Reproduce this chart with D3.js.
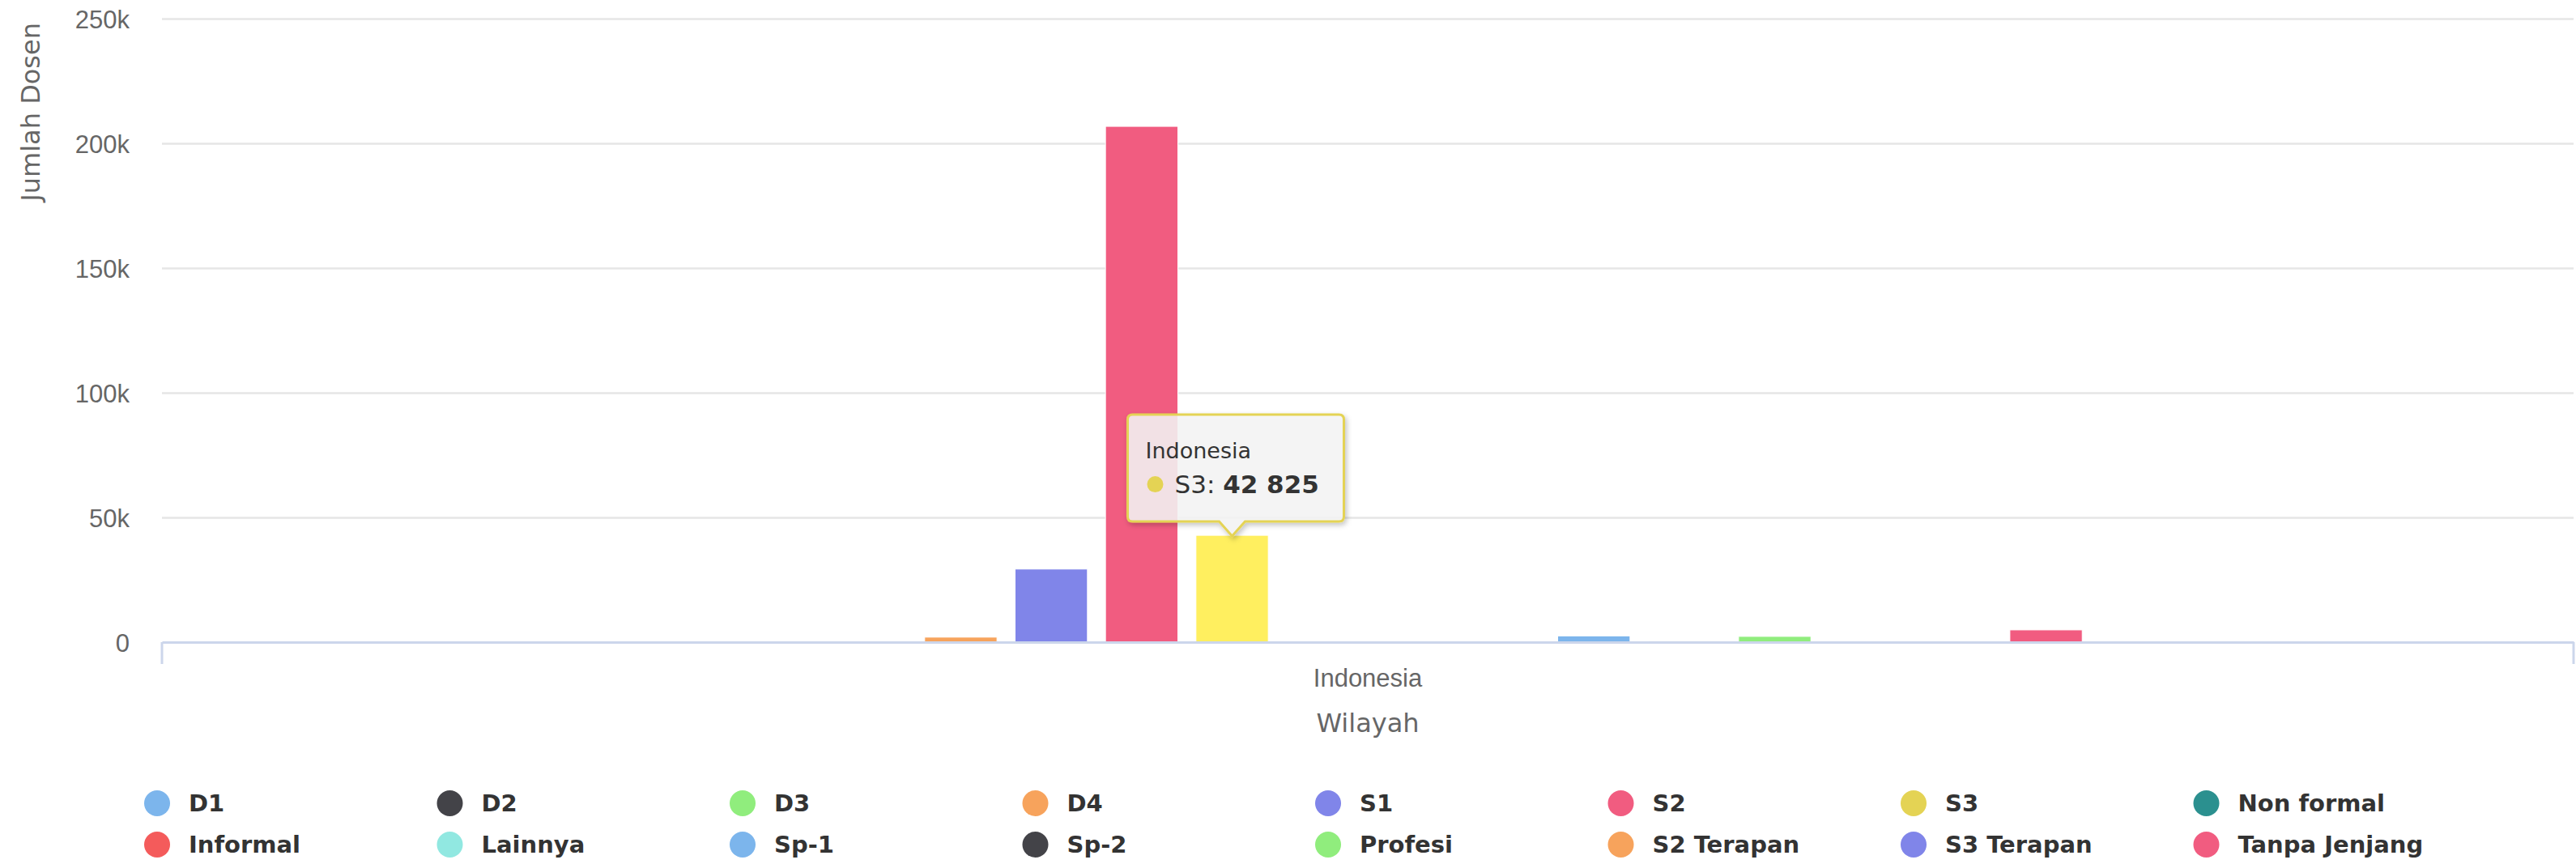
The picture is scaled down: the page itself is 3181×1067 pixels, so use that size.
<!DOCTYPE html>
<html>
<head>
<meta charset="utf-8">
<script src="https://cdn.jsdelivr.net/npm/d3@7/dist/d3.min.js"></script>
<style>
  html, body { margin: 0; padding: 0; background: #ffffff; }
  svg { display: block; font-family: "DejaVu Sans", Verdana, sans-serif; }
</style>
</head>
<body>
<svg id="chart" width="3181" height="1067"></svg>
<script>
// ---------- DATA ----------
const categories = ["Indonesia"];
const seriesNames = ["D1", "D2", "D3", "D4", "S1", "S2", "S3", "Non formal",
  "Informal", "Lainnya", "Sp-1", "Sp-2", "Profesi", "S2 Terapan", "S3 Terapan", "Tanpa Jenjang"];
const seriesValues = [0, 0, 150, 2000, 29300, 206800, 42825, 0,
  0, 0, 2500, 500, 2300, 0, 0, 4900];
const seriesColors = ["#7cb5ec", "#434348", "#90ed7d", "#f7a35c", "#8085e9", "#f15c80", "#e4d354", "#2b908f",
  "#f45b5b", "#91e8e1", "#7cb5ec", "#434348", "#90ed7d", "#f7a35c", "#8085e9", "#f15c80"];
const yTicks = [0, 50000, 100000, 150000, 200000, 250000];
const yTickLabels = ["0", "50k", "100k", "150k", "200k", "250k"];
const yTitle = "Jumlah Dosen";
const xTitle = "Wilayah";
const hoveredSeries = "S3";

// ---------- LAYOUT ----------
const svg = d3.select("#chart");
const plot = { left: 200, right: 3178, top: 23, bottom: 793 };

const x0 = d3.scaleBand().domain(categories).range([plot.left, plot.right])
  .paddingInner(0.25).paddingOuter(0.25);
const x1 = d3.scaleBand().domain(seriesNames).range([0, x0.bandwidth()])
  .paddingInner(0.2).paddingOuter(0.1);
const y = d3.scaleLinear().domain([0, 250000]).range([plot.bottom, plot.top]);
const color = d3.scaleOrdinal().domain(seriesNames).range(seriesColors);

// gridlines + y labels
const yAxis = svg.append("g")
  .attr("transform", `translate(${plot.left},0)`)
  .call(d3.axisLeft(y).tickValues(yTicks)
    .tickFormat((d, i) => yTickLabels[i])
    .tickSize(-(plot.right - plot.left)).tickPadding(40));
yAxis.select(".domain").remove();
yAxis.selectAll(".tick line").attr("stroke", "#e6e6e6").attr("stroke-width", 2.5)
  .filter(d => d === 0).remove();
yAxis.selectAll(".tick text").attr("fill", "#666666").attr("font-size", 31)
  .attr("dy", "0.36em");

// y title
svg.append("text")
  .attr("transform", `translate(49,${plot.top + 5}) rotate(-90)`)
  .attr("text-anchor", "end")
  .attr("fill", "#666666").attr("font-size", 32)
  .text(yTitle);

// bars
const data = categories.map(c => ({
  cat: c,
  values: seriesNames.map((s, i) => ({ series: s, value: seriesValues[i] }))
}));
const groups = svg.append("g").selectAll("g").data(data).join("g")
  .attr("transform", d => `translate(${x0(d.cat)},0)`);
groups.selectAll("rect").data(d => d.values).join("rect")
  .attr("x", d => x1(d.series))
  .attr("width", x1.bandwidth())
  .attr("y", d => y(d.value))
  .attr("height", d => y(0) - y(d.value))
  .attr("fill", d => d.series === hoveredSeries ? d3.color(color(d.series)).brighter(0.35).formatHex() : color(d.series))
  .attr("stroke", "#ffffff").attr("stroke-width", 1);

// x axis
const xAxis = svg.append("g")
  .attr("transform", `translate(0,${plot.bottom})`)
  .call(d3.axisBottom(x0).tickSize(0));
xAxis.select(".domain").attr("stroke", "#ccd6eb").attr("stroke-width", 3);
xAxis.selectAll(".tick text").attr("fill", "#666666").attr("font-size", 31)
  .attr("y", 55).attr("dy", 0);
// boundary tick marks
svg.append("g").selectAll("line").data(x0.range()).join("line")
  .attr("x1", d => d).attr("x2", d => d)
  .attr("y1", plot.bottom).attr("y2", plot.bottom + 27)
  .attr("stroke", "#ccd6eb").attr("stroke-width", 3);

// x title
svg.append("text")
  .attr("x", (plot.left + plot.right) / 2).attr("y", 904)
  .attr("text-anchor", "middle")
  .attr("fill", "#666666").attr("font-size", 32)
  .text(xTitle);

// legend
const legendX = d3.scalePoint().domain(d3.range(8)).range([194, 194 + 7 * 361.5]);
const legendY = [992, 1043];
const legend = svg.append("g").selectAll("g").data(seriesNames).join("g")
  .attr("transform", (d, i) => `translate(${legendX(i % 8)},${legendY[Math.floor(i / 8)]})`);
legend.append("circle").attr("r", 16).attr("fill", d => color(d));
legend.append("text").attr("x", 39).attr("dy", "0.36em")
  .attr("fill", "#333333").attr("font-size", 29).attr("font-weight", "bold")
  .text(d => d);

// tooltip
const defs = svg.append("defs");
const f = defs.append("filter").attr("id", "shadow").attr("x", "-10%").attr("y", "-10%")
  .attr("width", "130%").attr("height", "140%");
f.append("feDropShadow").attr("dx", 2).attr("dy", 3).attr("stdDeviation", 3)
  .attr("flood-color", "#000").attr("flood-opacity", 0.25);

const hi = seriesNames.indexOf(hoveredSeries);
const hv = seriesValues[hi];
const tipX = x0(categories[0]) + x1(hoveredSeries) + x1.bandwidth() / 2;
const tipY = y(hv) + 1;
const bx = tipX - 129, bw = 267, bh = 132, by = tipY - 18 - bh, r = 6;
const pathD = `M${bx + r},${by} H${bx + bw - r} Q${bx + bw},${by} ${bx + bw},${by + r}
  V${by + bh - r} Q${bx + bw},${by + bh} ${bx + bw - r},${by + bh}
  H${tipX + 16} L${tipX},${tipY} L${tipX - 16},${by + bh}
  H${bx + r} Q${bx},${by + bh} ${bx},${by + bh - r} V${by + r} Q${bx},${by} ${bx + r},${by} Z`;
const tip = svg.append("g");
tip.append("path").attr("d", pathD)
  .attr("fill", "rgba(247,247,247,0.85)")
  .attr("stroke", color(hoveredSeries)).attr("stroke-width", 3)
  .attr("filter", "url(#shadow)");
tip.append("text").attr("x", bx + 22).attr("y", by + 54)
  .attr("fill", "#333333").attr("font-size", 27).text(categories[0]);
tip.append("circle").attr("cx", bx + 34).attr("cy", by + 86).attr("r", 10)
  .attr("fill", color(hoveredSeries));
const fmt = d3.formatLocale({ decimal: ".", thousands: " ", grouping: [3], currency: ["", ""] }).format(",d");
const t2 = tip.append("text").attr("x", bx + 58).attr("y", by + 97)
  .attr("fill", "#333333").attr("font-size", 31);
t2.append("tspan").text(hoveredSeries + ": ");
t2.append("tspan").attr("font-weight", "bold").text(fmt(hv));
</script>
</body>
</html>
